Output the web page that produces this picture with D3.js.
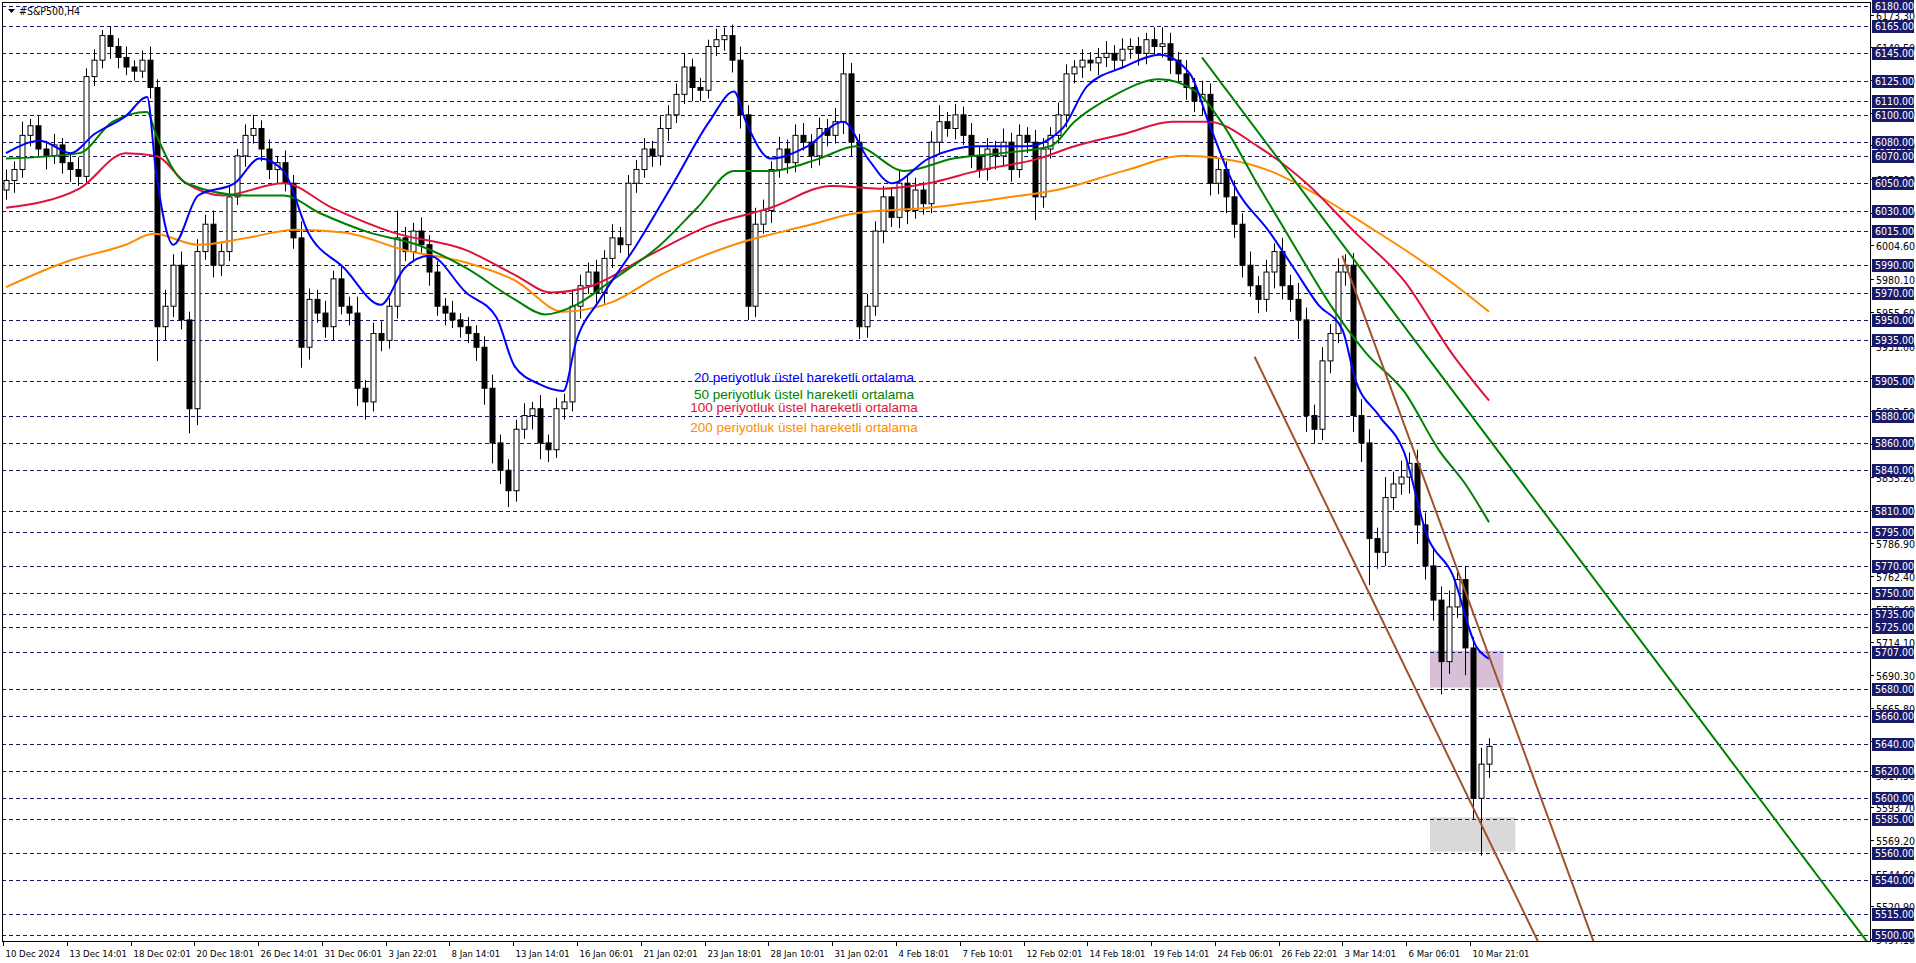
<!DOCTYPE html>
<html><head><meta charset="utf-8">
<script src="https://cdn.jsdelivr.net/npm/d3@7"></script>
<style>body{margin:0;background:#fff;overflow:hidden}svg{display:block}</style>
</head><body>
<svg id="c" width="1916" height="963"></svg>
<script>
const closes=[6052,6060,6085,6092,6075,6070,6078,6065,6060,6055,
6128,6140,6158,6150,6142,6135,6132,6140,6120,5945,
5960,5990,5950,5885,6000,6020,5990,6000,6040,6070,
6085,6090,6075,6060,6065,6050,6010,5930,5965,5955,
5945,5980,5960,5955,5900,5890,5940,5935,5960,6010,
6000,6015,6005,5985,5960,5955,5950,5945,5940,5930,
5900,5860,5840,5825,5870,5880,5885,5860,5855,5885,
5890,5960,5975,5985,5970,5995,6010,6005,6050,6060,
6075,6070,6090,6100,6115,6135,6120,6118,6150,6155,
6158,6140,6100,5960,6020,6030,6060,6075,6065,6085,
6080,6070,6090,6085,6095,6130,6080,5945,5960,6015,
6040,6025,6050,6030,6045,6035,6080,6095,6090,6100,
6085,6070,6060,6075,6070,6080,6060,6085,6080,6040,
6075,6085,6100,6130,6135,6140,6138,6142,6145,6140,
6148,6150,6145,6155,6150,6152,6140,6130,6120,6110,
6115,6050,6060,6040,6020,5990,5975,5965,5985,6000,
5975,5965,5950,5880,5870,5920,5940,5985,5990,5880,
5860,5790,5780,5820,5830,5835,5845,5800,5770,5745,
5700,5740,5760,5710,5600,5625,5638];
const upperWick=[8,6,10,5,7,6,8,5,6,9,6,8,4,7,6,8,5,7,10,6,12,8,10,6,9,7,10,6,8,5,8,10,6,7,5,9,6,12,8,7,9,6,10,7,12,6,8,9,6,20,8,6,10,7,8,6,9,5,7,6,8,10,6,8,7,9,5,10,6,8,6,12,8,7,9,6,10,8,6,7,8,6,9,7,8,10,6,7,5,8,6,8,10,7,12,8,6,9,7,8,9,6,8,7,10,15,8,6,9,7,8,6,10,7,9,6,8,12,7,8,6,9,7,8,6,10,7,8,6,9,8,6,9,7,5,8,6,7,9,6,8,6,7,5,9,12,8,6,10,7,10,8,9,6,12,8,10,7,9,6,10,8,12,9,8,10,7,10,8,9,12,10,8,15,9,12,8,10,9,14,10,12,8,10,8,12,6];
const lowerWick=[7,9,6,8,5,10,6,8,9,7,5,7,6,9,8,6,7,5,8,25,10,8,7,18,12,6,9,8,7,6,8,6,9,7,10,6,8,15,9,7,8,10,6,9,13,13,7,8,6,9,7,8,6,10,7,9,6,8,7,10,12,15,10,12,8,7,10,12,9,6,8,7,9,6,10,8,7,6,9,7,6,8,7,9,6,7,10,8,6,7,8,9,10,10,8,7,9,6,8,7,6,9,7,8,6,9,10,9,8,7,9,7,8,10,6,8,7,9,6,8,7,9,6,8,10,7,9,6,8,17,8,7,6,9,7,8,6,9,7,8,6,7,9,8,6,8,10,7,9,8,10,9,8,12,10,9,8,10,9,12,10,9,14,12,10,8,9,7,10,12,14,34,12,10,9,8,12,14,10,15,24,9,8,20,15,42,10];
const firstOpen=6045;

const ema20=[[0,6072],[4.3,6081],[8.1,6072],[11.1,6086],[15,6099],[17.7,6113],[18.8,6059],[21,6005],[24.1,6041],[28.7,6050],[31.8,6068],[34.8,6059],[37.9,6014],[42.4,5988],[47,5961],[50,5988],[53.1,5997],[57.7,5970],[61.5,5952],[63.8,5916],[66.9,5903],[69.9,5898],[71.5,5934],[74.5,5965],[79.1,6005],[83.7,6050],[88.2,6095],[91.3,6117],[92.8,6095],[95.9,6068],[100.5,6077],[105,6095],[108.1,6068],[111.1,6050],[115.7,6068],[121.8,6077],[128,6077],[132.5,6090],[135.6,6121],[140.2,6135],[144.7,6144],[148.5,6130],[150.8,6095],[153.9,6050],[158.5,6014],[161.5,5988],[164.6,5961],[167.6,5943],[169.2,5907],[172.2,5880],[175.3,5854],[178.3,5791],[181.4,5764],[184.4,5711],[186,5702]];
const ema50=[[0,6068],[9.2,6072],[13.4,6095],[17.7,6102],[18.8,6086],[22.6,6050],[30.2,6041],[34.8,6041],[39.4,6028],[45.5,6014],[51.6,6005],[57.7,5988],[63.8,5965],[67.6,5954],[71.5,5961],[76,5979],[82.1,6005],[86.7,6032],[91.3,6059],[95.9,6059],[102,6068],[106.6,6077],[112.7,6059],[118.8,6068],[124.9,6072],[131,6077],[134,6095],[138.6,6113],[144.7,6126],[149.3,6117],[152.4,6095],[156.9,6050],[161.5,6005],[166.1,5961],[170.7,5925],[175.3,5898],[179.8,5854],[182.9,5831],[186,5802]];
const ema100=[[0,6032],[9.2,6046],[15,6072],[18.8,6070],[22.6,6050],[27.2,6041],[34.8,6050],[40.9,6032],[48.5,6014],[57.7,6001],[63.8,5983],[68.4,5970],[73,5974],[80.6,5997],[88.2,6019],[95.9,6032],[103.5,6048],[109.6,6046],[115.7,6050],[121.8,6059],[129.5,6068],[134,6077],[140.2,6086],[146.3,6095],[150.8,6095],[157,6077],[163.1,6050],[169.2,6014],[175.3,5979],[181.4,5925],[186,5891]];
const ema200=[[0,5974],[7.3,5992],[15,6005],[18.5,6013],[24.1,6005],[30.2,6010],[36.3,6016],[42.4,6014],[50,6001],[57.7,5992],[63.8,5979],[69.9,5956],[76,5963],[82.1,5983],[91.3,6005],[100.5,6019],[106.6,6028],[115.7,6032],[124.9,6039],[132.5,6046],[140.2,6059],[147.8,6070],[152.4,6068],[158.5,6059],[164.6,6041],[170.7,6019],[176.8,5996],[181.4,5977],[186,5956]];

const levels=[6180,6165,6145,6125,6110,6100,6080,6070,6050,6030,6015,5990,5970,5950,5935,5905,5880,5860,5840,5810,5795,5770,5750,5735,5725,5707,5680,5660,5640,5620,5600,5585,5560,5540,5515,5500];
const axisTicks=[6173.30,6149.50,6125.70,6101.20,6077.60,6053.10,6028.50,6004.60,5980.10,5955.60,5931.00,5907.40,5883.50,5859.40,5835.20,5810.70,5786.90,5762.40,5738.60,5714.10,5690.30,5665.80,5641.90,5617.30,5593.70,5569.20,5544.60,5520.90,5497.10];
const dateLabels=["10 Dec 2024","13 Dec 14:01","18 Dec 02:01","20 Dec 18:01","26 Dec 14:01","31 Dec 06:01","3 Jan 22:01","8 Jan 14:01","13 Jan 14:01","16 Jan 06:01","21 Jan 02:01","23 Jan 18:01","28 Jan 10:01","31 Jan 02:01","4 Feb 18:01","7 Feb 10:01","12 Feb 02:01","14 Feb 18:01","19 Feb 14:01","24 Feb 06:01","26 Feb 22:01","3 Mar 14:01","6 Mar 06:01","10 Mar 21:01"];
const trendLines=[{a:[150,6142],b:[233.3,5496],c:"#008000"},{a:[167.6,5997],b:[199,5497],c:"#a0522d"},{a:[156.6,5923],b:[192,5497],c:"#a0522d"}];
const boxes=[{i0:178.6,i1:187.8,p0:5708,p1:5681,c:"#d8bfd8"},{i0:178.6,i1:189.3,p0:5586,p1:5561,c:"#d9d9d9"}];
const legend=[["20 periyotluk üstel hareketli ortalama","#0000ff"],["50 periyotluk üstel hareketli ortalama","#008000"],["100 periyotluk üstel hareketli ortalama","#dc143c"],["200 periyotluk üstel hareketli ortalama","#ff8c00"]];

const svg=d3.select("#c");
const L=2,R=1870,T=2,B=941;
const x=d3.scaleLinear().domain([0,186]).range([6,1489]);
const y=d3.scaleLinear().domain([5500,6180]).range([935,5.5]);
const font="'DejaVu Sans Condensed', 'Liberation Sans Narrow', 'Liberation Sans', sans-serif";
const lfont="'Liberation Sans', Arial, sans-serif";

svg.append("defs").append("clipPath").attr("id","cp").append("rect").attr("x",L).attr("y",T).attr("width",R-L).attr("height",B-T);
const g=svg.append("g").attr("clip-path","url(#cp)");

boxes.forEach(b=>g.append("rect").attr("x",x(b.i0)).attr("y",y(b.p0)).attr("width",x(b.i1)-x(b.i0)).attr("height",y(b.p1)-y(b.p0)).attr("fill",b.c));

levels.forEach(l=>g.append("line").attr("x1",L).attr("x2",R).attr("y1",Math.round(y(l))+0.5).attr("y2",Math.round(y(l))+0.5).attr("stroke","#16166b").attr("stroke-dasharray","4,3"));

const cw=5;
closes.forEach((c,i)=>{
  const o=i?closes[i-1]:firstOpen;
  const hi=Math.max(o,c)+upperWick[i], lo=Math.min(o,c)-lowerWick[i];
  const cx=Math.round(x(i))+0.5;
  g.append("line").attr("x1",cx).attr("x2",cx).attr("y1",y(hi)).attr("y2",y(lo)).attr("stroke","#000");
  const top=y(Math.max(o,c)), h=Math.max(1,y(Math.min(o,c))-top);
  g.append("rect").attr("x",cx-cw/2).attr("y",top).attr("width",cw).attr("height",h)
   .attr("fill",c>=o?"#fff":"#000").attr("stroke","#000").attr("stroke-width",1);
});

const line=d3.line().x(d=>x(d[0])).y(d=>y(d[1])).curve(d3.curveMonotoneX);
[[ema200,"#ff8c00"],[ema100,"#dc143c"],[ema50,"#008000"],[ema20,"#0000ff"]].forEach(([d,c])=>
  g.append("path").attr("d",line(d)).attr("fill","none").attr("stroke",c).attr("stroke-width",2));

trendLines.forEach(t=>{
  const k=(t.b[1]-t.a[1])/(t.b[0]-t.a[0]);
  const i2=t.b[0]+40;
  g.append("line").attr("x1",x(t.a[0])).attr("y1",y(t.a[1])).attr("x2",x(i2)).attr("y2",y(t.a[1]+k*(i2-t.a[0]))).attr("stroke",t.c).attr("stroke-width",2);
});

legend.forEach((l,k)=>svg.append("text").attr("x",804).attr("y",[382,399,412,432][k]).attr("text-anchor","middle")
  .attr("font-family",lfont).attr("font-size",13.5).attr("fill",l[1]).text(l[0]));

svg.append("rect").attr("x",L+0.5).attr("y",T+0.5).attr("width",R-L).attr("height",B-T).attr("fill","none").attr("stroke","#000");

axisTicks.forEach(t=>{
  const yy=Math.round(y(t))+0.5;
  svg.append("line").attr("x1",R).attr("x2",R+4).attr("y1",yy).attr("y2",yy).attr("stroke","#000");
  svg.append("text").attr("x",R+6).attr("y",yy+4).attr("font-family",font).attr("font-size",10.5).attr("fill","#000").text(t.toFixed(2));
});
levels.forEach(l=>{
  const yy=Math.round(y(l));
  svg.append("rect").attr("x",R+2).attr("y",yy-6).attr("width",42).attr("height",13).attr("fill","#1a1a6b");
  svg.append("text").attr("x",R+5).attr("y",yy+4).attr("font-family",font).attr("font-size",10.5).attr("fill","#fff").text(l.toFixed(2));
});

dateLabels.forEach((d,k)=>{
  const xx=Math.round(x(k*8))-3+0.5;
  svg.append("line").attr("x1",xx).attr("x2",xx).attr("y1",B).attr("y2",B+5).attr("stroke","#000");
  svg.append("text").attr("x",xx+2).attr("y",B+16).attr("font-family",font).attr("font-size",9.5).attr("fill","#000").text(d);
});

svg.append("path").attr("d","M8,9 L15,9 L11.5,13 Z").attr("fill","#000");
svg.append("text").attr("x",19).attr("y",15).attr("font-family",font).attr("font-size",10.5).attr("fill","#000").text("#S&P500,H4");
</script>
</body></html>
